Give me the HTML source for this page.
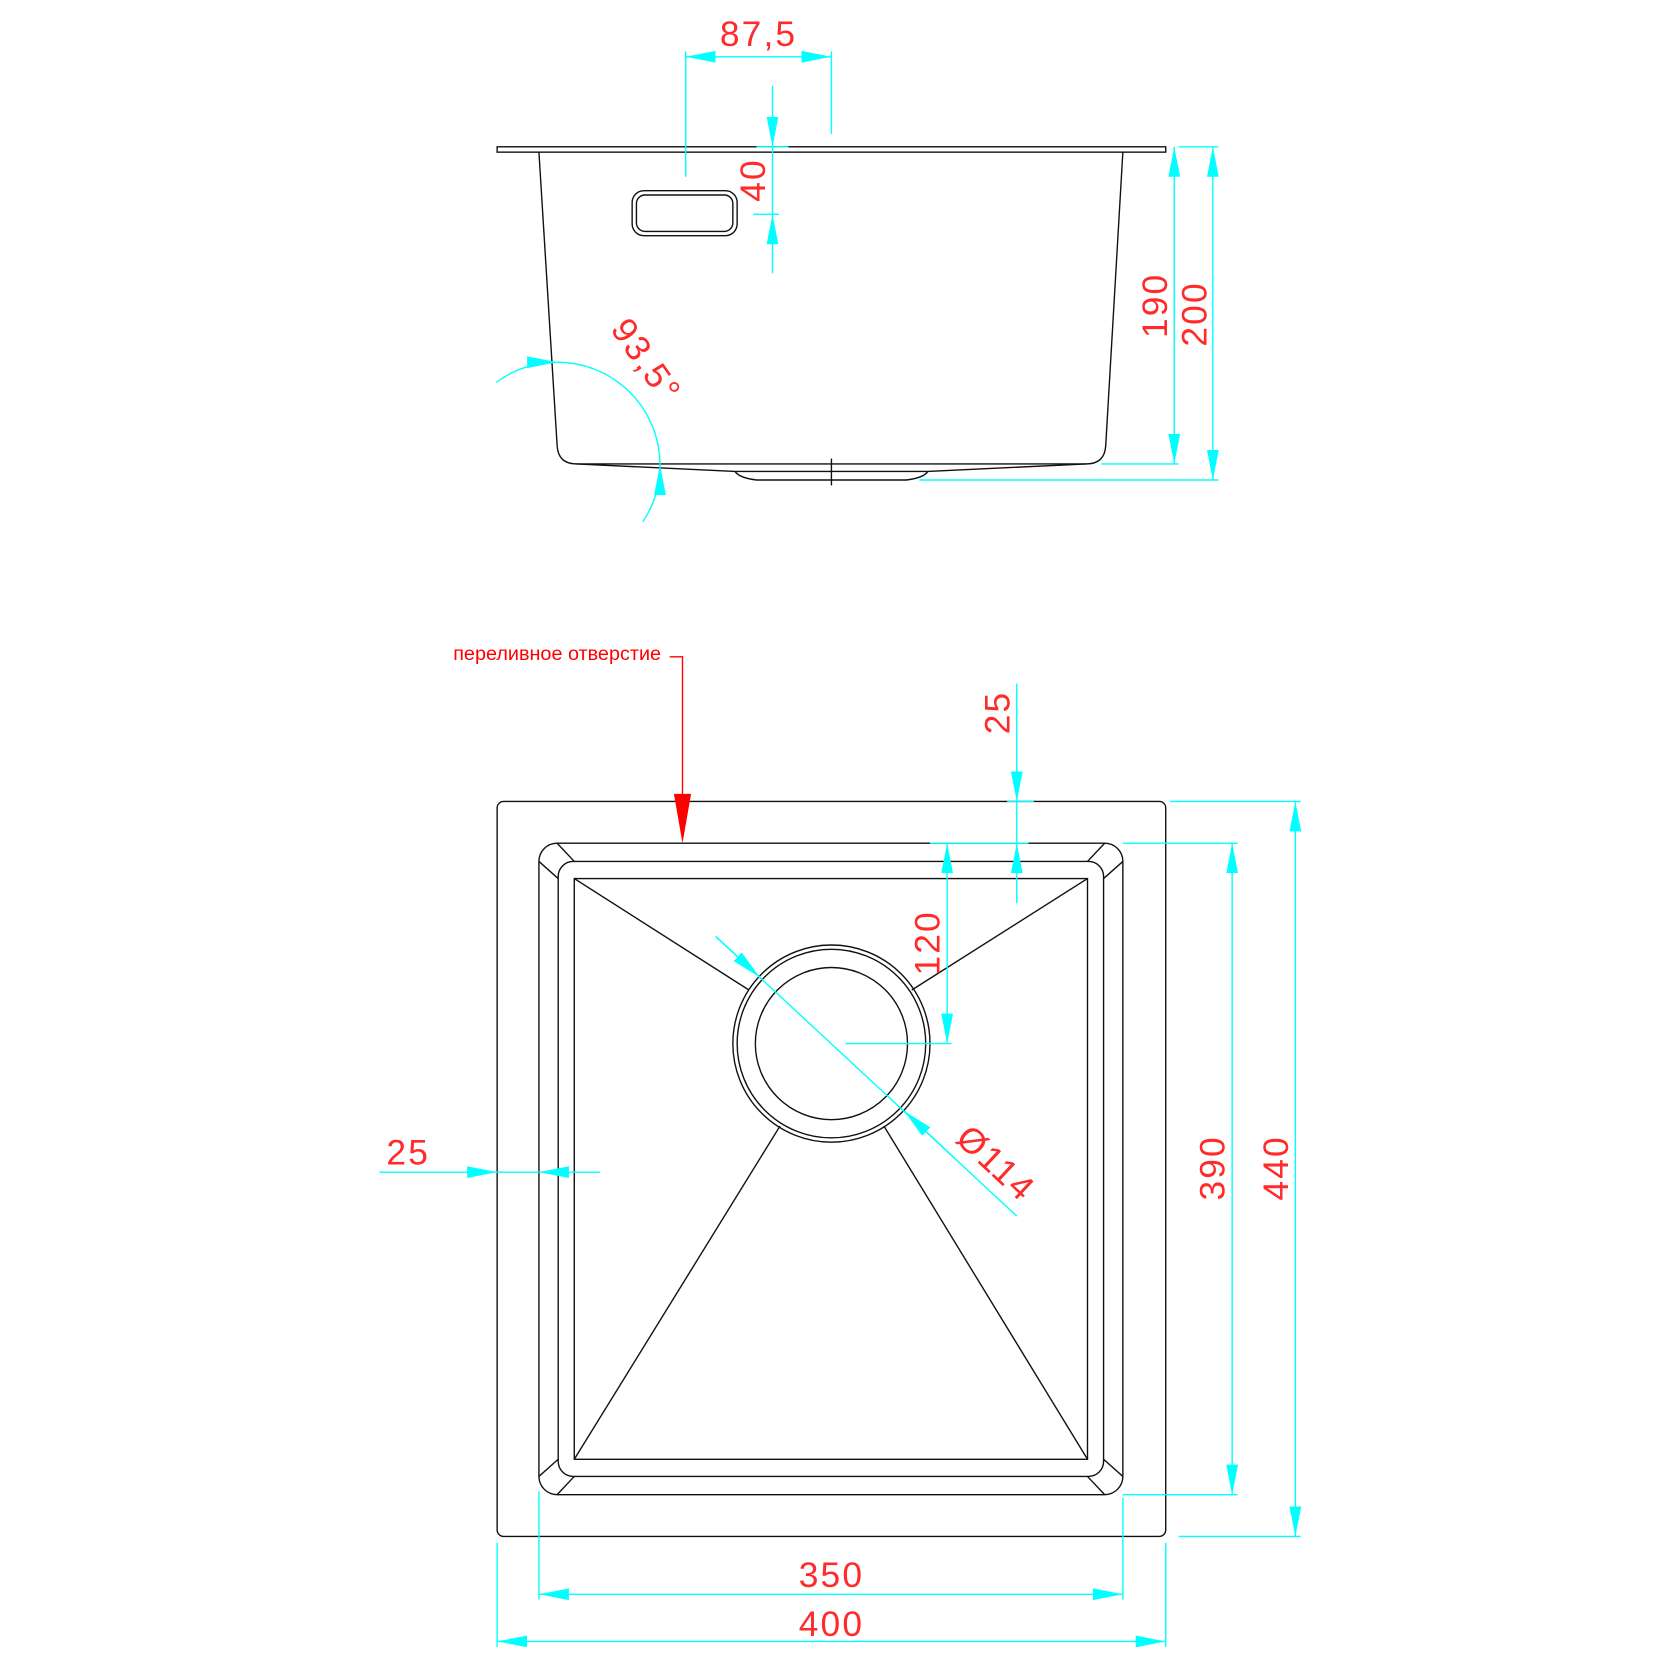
<!DOCTYPE html>
<html><head><meta charset="utf-8"><style>
html,body{margin:0;padding:0;background:#fff;}
svg{display:block}
text{font-family:"Liberation Sans",sans-serif;fill:#ff2a2a;font-size:33px;letter-spacing:2px;}
</style></head><body>
<svg width="1680" height="1680" viewBox="0 0 1568 1568" xmlns="http://www.w3.org/2000/svg">
<defs>
<marker id="a" viewBox="0 -7 28 14" markerWidth="28" markerHeight="14" refX="28" refY="0" orient="auto-start-reverse" markerUnits="userSpaceOnUse">
<path d="M28,0 L0,-5.5 L0,5.5z" fill="#00ffff"/></marker>
</defs>
<g fill="none" stroke="#111" stroke-width="1.3">
<rect x="464" y="137" width="624" height="5"/>
<path d="M503,142 L520,416 Q521,433 538,433 L1014,433 Q1031,433 1032,416 L1048,142"/>
<path d="M538,433 L686,440 L866,440 L1014,433"/>
<path d="M686,440 Q690,446 706,448 L846,448 Q862,446 866,440"/>
<line x1="776" y1="428" x2="776" y2="453"/>
<rect x="590" y="178" width="98" height="42" rx="11"/>
<rect x="594" y="182" width="90" height="34" rx="8"/>
<rect x="464" y="748" width="624" height="686" rx="6"/>
<rect x="503" y="787" width="545" height="608" rx="17"/>
<rect x="521" y="804" width="509" height="574" rx="14"/>
<rect x="536" y="820" width="479" height="542"/>
<line x1="520" y1="787" x2="536" y2="804"/><line x1="503" y1="804" x2="521" y2="820"/>
<line x1="1031" y1="787" x2="1015" y2="804"/><line x1="1048" y1="804" x2="1030" y2="820"/>
<line x1="520" y1="1395" x2="536" y2="1378"/><line x1="503" y1="1378" x2="521" y2="1362"/>
<line x1="1031" y1="1395" x2="1015" y2="1378"/><line x1="1048" y1="1378" x2="1030" y2="1362"/>
<circle cx="776" cy="974" r="92"/><circle cx="776" cy="974" r="88"/><circle cx="776" cy="974" r="71"/>
<line x1="536" y1="820" x2="699" y2="924"/><line x1="1015" y1="820" x2="851" y2="924"/>
<line x1="536" y1="1362" x2="728" y2="1051"/><line x1="1015" y1="1362" x2="825" y2="1051"/>
</g>
<g fill="none" stroke="#00ffff" stroke-width="1.3">
<line x1="640" y1="48" x2="640" y2="165"/><line x1="776" y1="48" x2="776" y2="125"/>
<line x1="640" y1="53" x2="776" y2="53" marker-start="url(#a)" marker-end="url(#a)"/>
<line x1="721" y1="80" x2="721" y2="137" marker-end="url(#a)"/>
<line x1="721" y1="255" x2="721" y2="200" marker-end="url(#a)"/>
<line x1="721" y1="137" x2="721" y2="200"/>
<line x1="703" y1="200" x2="727" y2="200"/><line x1="706" y1="137" x2="736" y2="137"/>
<line x1="1096" y1="137" x2="1096" y2="433" marker-start="url(#a)" marker-end="url(#a)"/>
<line x1="1028" y1="433" x2="1100" y2="433"/>
<line x1="1132" y1="137" x2="1132" y2="448" marker-start="url(#a)" marker-end="url(#a)"/>
<line x1="1100" y1="137" x2="1137" y2="137"/><line x1="858" y1="448" x2="1137" y2="448"/>
<path d="M463,357 A96,96 0 0 1 520,338" marker-end="url(#a)"/>
<path d="M520,338 A96,96 0 0 1 616,434"/>
<path d="M600,487 A96,96 0 0 0 616,434" marker-end="url(#a)"/>
<line x1="949" y1="638" x2="949" y2="748" marker-end="url(#a)"/>
<line x1="949" y1="843" x2="949" y2="787" marker-end="url(#a)"/>
<line x1="949" y1="748" x2="949" y2="787"/>
<line x1="940" y1="748" x2="965" y2="748"/><line x1="868" y1="787" x2="960" y2="787"/>
<line x1="884" y1="787" x2="884" y2="974" marker-start="url(#a)" marker-end="url(#a)"/>
<line x1="789" y1="974" x2="888" y2="974"/>
<line x1="668" y1="874" x2="949" y2="1135"/>
<line x1="668" y1="874" x2="709" y2="912" marker-end="url(#a)"/>
<line x1="890" y1="1080" x2="844" y2="1037" marker-end="url(#a)"/>
<line x1="354" y1="1094" x2="464" y2="1094" marker-end="url(#a)"/>
<line x1="560" y1="1094" x2="503" y2="1094" marker-end="url(#a)"/>
<line x1="464" y1="1094" x2="503" y2="1094"/>
<line x1="1150" y1="787" x2="1150" y2="1395" marker-start="url(#a)" marker-end="url(#a)"/>
<line x1="1048" y1="787" x2="1155" y2="787"/><line x1="1048" y1="1395" x2="1155" y2="1395"/>
<line x1="1209" y1="748" x2="1209" y2="1434" marker-start="url(#a)" marker-end="url(#a)"/>
<line x1="1092" y1="748" x2="1214" y2="748"/><line x1="1100" y1="1434" x2="1214" y2="1434"/>
<line x1="503" y1="1488" x2="1048" y2="1488" marker-start="url(#a)" marker-end="url(#a)"/>
<line x1="503" y1="1392" x2="503" y2="1493"/><line x1="1048" y1="1398" x2="1048" y2="1493"/>
<line x1="464" y1="1532" x2="1088" y2="1532" marker-start="url(#a)" marker-end="url(#a)"/>
<line x1="464" y1="1440" x2="464" y2="1537"/><line x1="1088" y1="1440" x2="1088" y2="1537"/>
</g>
<path d="M625,613 L637,613 L637,745" fill="none" stroke="#ff0000" stroke-width="1.3"/>
<path d="M629,741 L645,741 L637,787z" fill="#ff0000"/>
<text x="423" y="616" style="font-size:18.5px;letter-spacing:0;fill:#ff0000">переливное отверстие</text>
<text x="708" y="43" text-anchor="middle">87,5</text>
<text transform="translate(714,168) rotate(-90)" text-anchor="middle">40</text>
<text transform="translate(1089,285) rotate(-90)" text-anchor="middle">190</text>
<text transform="translate(1126,293) rotate(-90)" text-anchor="middle">200</text>
<text transform="translate(594,343) rotate(55)" text-anchor="middle">93,5°</text>
<text transform="translate(942,665) rotate(-90)" text-anchor="middle">25</text>
<text transform="translate(877,880) rotate(-90)" text-anchor="middle">120</text>
<text transform="translate(922,1094) rotate(43)" text-anchor="middle">Ø114</text>
<text x="381" y="1087" text-anchor="middle">25</text>
<text transform="translate(1143,1090) rotate(-90)" text-anchor="middle">390</text>
<text transform="translate(1202,1090) rotate(-90)" text-anchor="middle">440</text>
<text x="776" y="1481" text-anchor="middle">350</text>
<text x="776" y="1527" text-anchor="middle">400</text>
</svg>
</body></html>
